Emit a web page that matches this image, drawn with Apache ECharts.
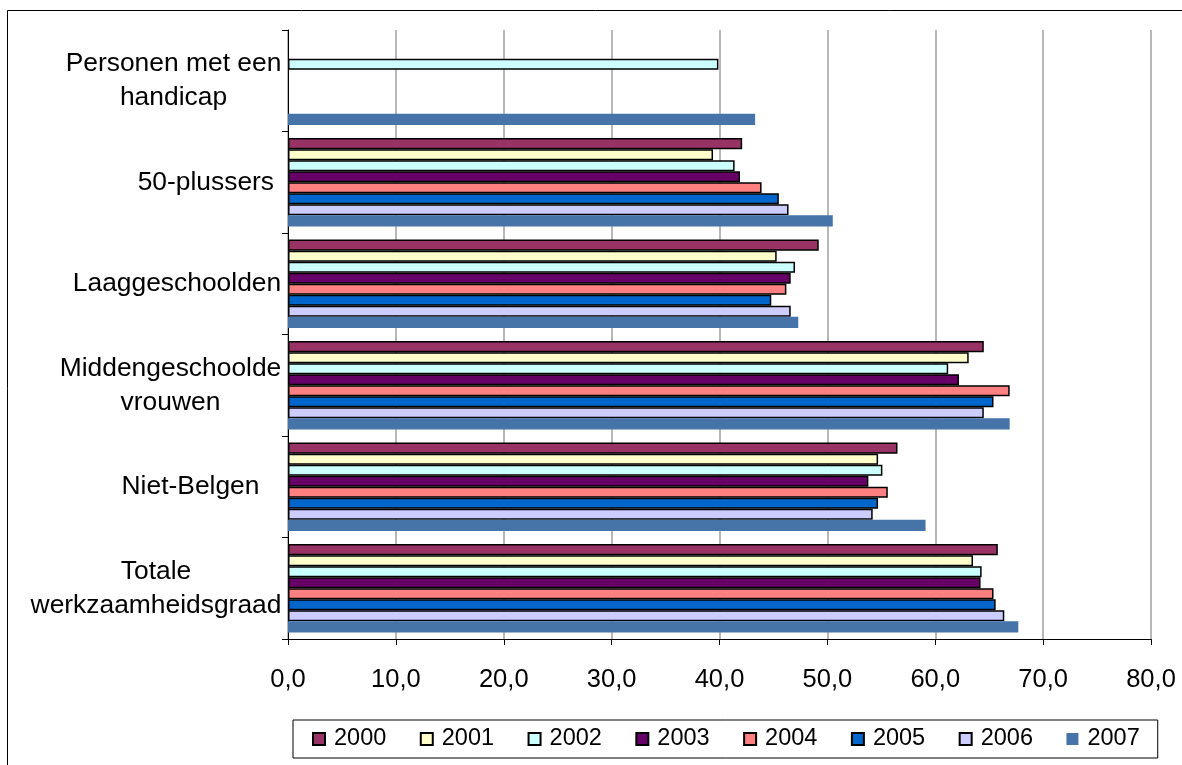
<!DOCTYPE html>
<html>
<head>
<meta charset="utf-8">
<script src="https://cdn.jsdelivr.net/npm/echarts@6/dist/echarts.min.js"></script>
<style>
html,body{margin:0;padding:0;background:#fff;}
#chart{width:1182px;height:765px;}
</style>
</head>
<body>
<div id="chart"></div>
<script>
// Categories, top to bottom
const categories = [
  "Personen met een\nhandicap",
  "50-plussers ",
  "Laaggeschoolden",
  "Middengeschoolde\nvrouwen",
  "Niet-Belgen   ",
  "Totale\nwerkzaamheidsgraad"
];
const years = ["2000", "2001", "2002", "2003", "2004", "2005", "2006", "2007"];
const v2000 = [null, 42.1, 49.2, 64.5, 56.5, 65.8];
const v2001 = [null, 39.4, 45.3, 63.1, 54.7, 63.5];
const v2002 = [39.9, 41.4, 47.0, 61.2, 55.1, 64.3];
const v2003 = [null, 41.9, 46.6, 62.2, 53.8, 64.2];
const v2004 = [null, 43.9, 46.2, 66.9, 55.6, 65.4];
const v2005 = [null, 45.5, 44.8, 65.4, 54.7, 65.6];
const v2006 = [null, 46.4, 46.6, 64.5, 54.2, 66.4];
const v2007 = [43.3, 50.5, 47.3, 66.9, 59.1, 67.7];
const xTicks = { min: 0, max: 80, interval: 10 };

const seriesValues = [v2000, v2001, v2002, v2003, v2004, v2005, v2006, v2007];
const colors = ["#993366", "#FFFFCC", "#CCFFFF", "#660066", "#FF8080", "#0066CC", "#CCCCFF", "#4674A8"];
const FONT = '"Liberation Sans", Arial, sans-serif';
const LABEL_SIZE = 26.4;

// measure label widths for centred multi-line labels
const cv = document.createElement('canvas').getContext('2d');
cv.font = LABEL_SIZE + 'px "Liberation Sans", Arial, sans-serif';
const rich = {};
categories.forEach((c, i) => {
  const w = Math.max(...c.split('\n').map(l => cv.measureText(l).width));
  rich['c' + i] = {
    width: Math.ceil(w) + 1,
    align: 'center',
    fontSize: LABEL_SIZE,
    lineHeight: 34,
    color: '#000',
    fontFamily: FONT
  };
});

const chart = echarts.init(document.getElementById('chart'), null, { renderer: 'canvas' });
const option = {
  backgroundColor: '#fff',
  animation: false,
  graphic: [{
    type: 'rect',
    shape: { x: 7.5, y: 10.5, width: 1180, height: 760 },
    style: { fill: 'none', stroke: '#000', lineWidth: 1 },
    silent: true
  }],
  grid: { left: 288, right: 31, top: 30, bottom: 126, containLabel: false },
  legend: {
    data: years,
    left: 293,
    top: 720,
    orient: 'horizontal',
    padding: [7, 18, 7, 19],
    itemGap: 33.5,
    itemWidth: 12,
    itemHeight: 12,
    borderColor: '#000',
    borderWidth: 1,
    textStyle: { fontSize: 23.5, color: '#000', fontFamily: FONT, padding: [0, 0, 0, 4] },
    icon: 'rect'
  },
  xAxis: {
    type: 'value',
    min: xTicks.min,
    max: xTicks.max,
    interval: xTicks.interval,
    axisLine: { show: true, lineStyle: { color: '#000', width: 1 } },
    axisTick: { show: true, length: 6, lineStyle: { color: '#000' } },
    axisLabel: {
      fontSize: 25.5, color: '#000', fontFamily: FONT, margin: 28,
      formatter: v => v.toFixed(1).replace('.', ',')
    },
    splitLine: { show: true, lineStyle: { color: '#a0a0a0', width: 1.5 } }
  },
  yAxis: {
    type: 'category',
    data: categories,
    inverse: true,
    axisLine: { show: true, lineStyle: { color: '#000', width: 1 } },
    axisTick: { show: true, length: 6, lineStyle: { color: '#000' } },
    axisLabel: {
      margin: 6,
      formatter: (value, index) => value.split('\n').map(l => '{c' + index + '|' + l + '}').join('\n'),
      rich: rich
    },
    splitLine: { show: false }
  },
  series: years.map((y, i) => ({
    name: y,
    type: 'bar',
    data: seriesValues[i],
    barGap: '0%',
    barCategoryGap: '13%',
    itemStyle: {
      color: colors[i],
      borderColor: i === 7 ? 'transparent' : '#000',
      borderWidth: i === 7 ? 0 : 1.5
    }
  }))
};
chart.setOption(option);
</script>
</body>
</html>
